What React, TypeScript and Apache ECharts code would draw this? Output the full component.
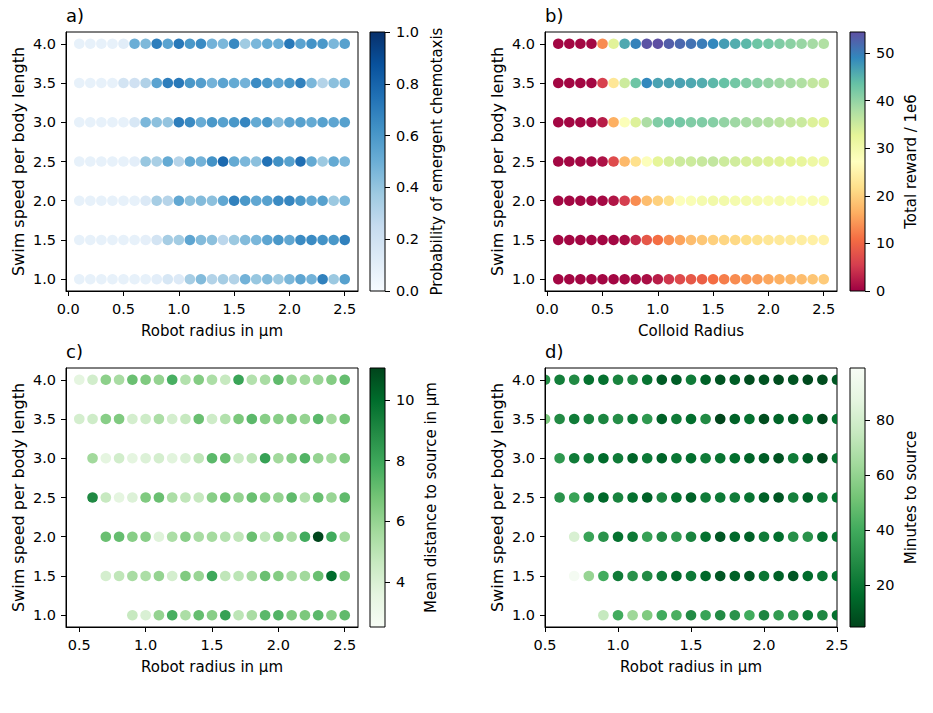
import React, { useEffect, useRef } from "react";
import * as echarts from "echarts";

// ColorBrewer ramps (the matplotlib Blues / Spectral / Greens maps)
const BLUES = ["#f7fbff", "#deebf7", "#c6dbef", "#9ecae1", "#6baed6", "#4292c6", "#2171b5", "#08519c", "#08306b"];
const SPECTRAL = ["#9e0142", "#d53e4f", "#f46d43", "#fdae61", "#fee08b", "#ffffbf", "#e6f598", "#abdda4", "#66c2a5", "#3288bd", "#5e4fa2"];
const GREENS = ["#f7fcf5", "#e5f5e0", "#c7e9c0", "#a1d99b", "#74c476", "#41ab5d", "#238b45", "#006d2c", "#00441b"];
const GREENS_R = GREENS.slice().reverse();

// grid of simulated parameters
const speeds = [4.0, 3.5, 3.0, 2.5, 2.0, 1.5, 1.0];
const radiiAB = [0.1, 0.2, 0.3, 0.4, 0.5, 0.6, 0.7, 0.8, 0.9, 1.0, 1.1, 1.2, 1.3, 1.4, 1.5, 1.6, 1.7, 1.8, 1.9, 2.0, 2.1, 2.2, 2.3, 2.4, 2.5];
const radiiCD = [0.5, 0.6, 0.7, 0.8, 0.9, 1.0, 1.1, 1.2, 1.3, 1.4, 1.5, 1.6, 1.7, 1.8, 1.9, 2.0, 2.1, 2.2, 2.3, 2.4, 2.5];

// tick labels
const xTicksAB = [0.0, 0.5, 1.0, 1.5, 2.0, 2.5];
const xTicksCD = [0.5, 1.0, 1.5, 2.0, 2.5];
const yTicks = [1.0, 1.5, 2.0, 2.5, 3.0, 3.5, 4.0];
const cbarTicksA = [0.0, 0.2, 0.4, 0.6, 0.8, 1.0];
const cbarTicksB = [0, 10, 20, 30, 40, 50];
const cbarTicksC = [4, 6, 8, 10];
const cbarTicksD = [20, 40, 60, 80];

// colour-scale limits
const rangeA = [0, 1];
const rangeB = [0, 54.4];
const rangeC = [2.52, 11.05];
const rangeD = [4.7, 98.9];

// a) probability of emergent chemotaxis, one row per swim speed (4.0 .. 1.0)
const chemotaxisProb = [
  [0.08, 0.08, 0.08, 0.08, 0.11, 0.5, 0.45, 0.7, 0.55, 0.72, 0.6, 0.65, 0.48, 0.46, 0.66, 0.37, 0.46, 0.52, 0.5, 0.72, 0.55, 0.62, 0.6, 0.46, 0.56],
  [0.08, 0.08, 0.08, 0.08, 0.18, 0.2, 0.32, 0.55, 0.7, 0.72, 0.6, 0.57, 0.48, 0.55, 0.52, 0.48, 0.65, 0.6, 0.54, 0.6, 0.69, 0.46, 0.31, 0.42, 0.46],
  [0.08, 0.08, 0.08, 0.08, 0.08, 0.16, 0.46, 0.42, 0.4, 0.7, 0.65, 0.51, 0.6, 0.56, 0.6, 0.67, 0.52, 0.6, 0.44, 0.54, 0.56, 0.52, 0.56, 0.54, 0.56],
  [0.08, 0.08, 0.08, 0.08, 0.08, 0.1, 0.39, 0.34, 0.52, 0.3, 0.52, 0.48, 0.62, 0.78, 0.52, 0.46, 0.42, 0.75, 0.63, 0.56, 0.76, 0.52, 0.38, 0.52, 0.46],
  [0.08, 0.08, 0.08, 0.08, 0.08, 0.08, 0.14, 0.35, 0.3, 0.53, 0.42, 0.44, 0.42, 0.53, 0.69, 0.6, 0.53, 0.56, 0.65, 0.67, 0.6, 0.53, 0.56, 0.38, 0.46],
  [0.08, 0.08, 0.08, 0.08, 0.08, 0.08, 0.09, 0.18, 0.35, 0.36, 0.54, 0.44, 0.42, 0.28, 0.38, 0.44, 0.46, 0.54, 0.6, 0.53, 0.65, 0.65, 0.62, 0.6, 0.69],
  [0.08, 0.08, 0.08, 0.08, 0.08, 0.08, 0.08, 0.1, 0.16, 0.13, 0.35, 0.44, 0.31, 0.35, 0.31, 0.48, 0.39, 0.44, 0.38, 0.46, 0.54, 0.48, 0.69, 0.38, 0.56],
];

// b) total reward / 1e6 versus colloid radius
const totalReward = [
  [0.5, 0.5, 0.5, 0.5, 13.5, 33, 46, 49.5, 54, 54.4, 53, 52, 51, 50, 49, 47, 45.5, 44.5, 43, 42.5, 41.5, 40.5, 39.5, 38.5, 37.5],
  [0.5, 0.5, 0.5, 0.5, 5.8, 23, 35, 43, 49, 46.5, 46.5, 46.5, 46, 45.5, 44.5, 43.5, 42.5, 41.5, 41, 40, 39, 38.5, 37.5, 36, 35.5],
  [0.5, 0.5, 0.5, 0.5, 2.5, 16.5, 28, 33.5, 38, 41.5, 42.5, 42.3, 41.5, 41.5, 41, 40, 39, 38.5, 38, 37.5, 36.5, 35.8, 35.2, 33.5, 33],
  [0.5, 0.5, 0.5, 0.5, 1.5, 7, 17.5, 22, 27.8, 32.6, 34, 35, 35, 35.5, 36, 35, 34.7, 34, 33.8, 33.3, 33, 32.6, 32, 31, 30.5],
  [0.5, 0.5, 0.5, 0.5, 0.7, 1.8, 5.4, 13.5, 18, 20, 22, 27.8, 28.5, 29.5, 30.3, 30, 29.5, 29.5, 29.2, 28.8, 29.2, 28.5, 27.8, 28.8, 28.5],
  [0.5, 0.5, 0.5, 0.5, 0.5, 0.5, 1, 3.5, 8.5, 10.9, 13.5, 15.5, 18, 19, 20, 20.7, 21, 21.8, 22.3, 23, 23.3, 23.7, 24.2, 24.5, 25],
  [0.5, 0.5, 0.5, 0.5, 0.5, 0.5, 0.8, 0.8, 1.2, 2.5, 4.8, 7, 8.5, 9.3, 10.9, 12.3, 13.5, 14.2, 14.7, 15.7, 16.5, 17.2, 18, 18.8, 19.5],
];

// c) mean distance to source in µm; each row ends at radius 2.5
const meanDistance = [
  [3.6, 4.3, 6.2, 5.5, 7.0, 6.5, 6.0, 7.7, 5.2, 6.4, 5.4, 4.65, 8.1, 5.2, 5.5, 7.2, 5.9, 5.7, 5.9, 6.4, 7.1],
  [4.2, 4.4, 6.3, 6.5, 4.2, 4.4, 5.4, 4.2, 4.65, 7.0, 4.4, 5.2, 6.6, 7.3, 6.3, 6.3, 6.5, 6.0, 7.3, 5.7, 6.8],
  [5.7, 3.6, 4.3, 3.6, 3.9, 4.2, 3.7, 4.0, 4.85, 7.3, 7.0, 4.5, 4.95, 8.2, 5.7, 6.3, 7.5, 6.0, 5.6, 6.5],
  [9.0, 4.65, 3.6, 3.9, 6.5, 7.0, 5.4, 4.85, 4.65, 6.3, 6.8, 6.0, 7.0, 6.3, 6.0, 7.2, 5.3, 7.0, 5.9, 7.2],
  [7.0, 7.1, 6.3, 6.3, 3.8, 5.4, 6.3, 5.5, 5.6, 5.2, 4.85, 7.0, 4.95, 6.3, 5.5, 7.85, 11.0, 7.85, 5.7],
  [4.2, 4.85, 5.5, 5.4, 6.0, 4.2, 6.5, 5.9, 7.95, 4.85, 4.95, 5.5, 7.0, 6.4, 5.5, 5.7, 7.0, 10.0, 6.4],
  [4.65, 4.0, 6.0, 7.7, 5.4, 7.1, 6.3, 8.2, 4.95, 5.5, 7.3, 7.5, 6.5, 6.6, 7.3, 6.3, 7.2],
];

// d) minutes to source; each row ends at radius 2.5
const minutesToSource = [
  [30, 23, 28, 18, 18, 25, 26, 19, 11, 12, 22, 13, 9, 12, 7, 9, 7, 9, 6, 7, 10],
  [54, 28, 22, 25, 26, 29, 21, 33, 13, 22, 17, 28, 5, 13, 18, 7, 14, 11, 18, 5, 18],
  [33, 22, 22, 16, 22, 14, 21, 14, 20, 17, 22, 19, 17, 14, 12, 9, 22, 12, 5, 19],
  [31, 37, 22, 15, 25, 18, 13, 26, 18, 13, 22, 21, 22, 19, 13, 10, 24, 13, 22, 18],
  [82, 37, 31, 18, 21, 36, 28, 33, 25, 18, 10, 15, 13, 22, 17, 30, 31, 18, 19],
  [97, 61, 40, 22, 31, 28, 22, 15, 21, 15, 10, 13, 10, 20, 13, 10, 16, 20, 18],
  [75, 40, 63, 55, 40, 42, 28, 37, 28, 31, 40, 26, 34, 33, 21, 27, 18],
];

const FONT = "DejaVu Sans";
const TICK_FS = 14.5;
const LABEL_FS = 15;
const YLABEL_FS = 16;

// rows are right-aligned on the radius list (short rows start at larger radii)
function toPoints(radii: number[], rows: number[][]) {
  const pts: number[][] = [];
  rows.forEach((row, i) => {
    const xs = radii.slice(radii.length - row.length);
    row.forEach((v, j) => pts.push([xs[j], speeds[i], v]));
  });
  return pts;
}

const panels = [
  { left: 66, top: 32, xmin: -0.02, xmax: 2.62, xticks: xTicksAB, xname: "Robot radius in μm", pts: toPoints(radiiAB, chemotaxisProb), cmap: BLUES, range: rangeA, letter: "a)" },
  { left: 545, top: 32, xmin: -0.02, xmax: 2.62, xticks: xTicksAB, xname: "Colloid Radius", pts: toPoints(radiiAB, totalReward), cmap: SPECTRAL, range: rangeB, letter: "b)" },
  { left: 66, top: 368, xmin: 0.4, xmax: 2.6, xticks: xTicksCD, xname: "Robot radius in μm", pts: toPoints(radiiCD, meanDistance), cmap: GREENS, range: rangeC, letter: "c)" },
  { left: 545, top: 368, xmin: 0.5, xmax: 2.5, xticks: xTicksCD, xname: "Robot radius in μm", pts: toPoints(radiiCD, minutesToSource), cmap: GREENS_R, range: rangeD, letter: "d)" },
];

const colorbars = [
  { left: 370, top: 32, ticks: cbarTicksA, range: rangeA, cmap: BLUES, name: "Probability of emergent chemotaxis", gap: 44, fmt: (v: number) => v.toFixed(1) },
  { left: 850, top: 32, ticks: cbarTicksB, range: rangeB, cmap: SPECTRAL, name: "Total reward / 1e6", gap: 38, fmt: (v: number) => String(Math.round(v)) },
  { left: 370, top: 368, ticks: cbarTicksC, range: rangeC, cmap: GREENS, name: "Mean distance to source in μm", gap: 38, fmt: (v: number) => String(Math.round(v)) },
  { left: 850, top: 368, ticks: cbarTicksD, range: rangeD, cmap: GREENS_R, name: "Minutes to source", gap: 38, fmt: (v: number) => String(Math.round(v)) },
];

const PW = 292;
const PH = 259;
const CBW = 15;

export default function App() {
  const ref = useRef<HTMLDivElement>(null);

  useEffect(() => {
    if (!ref.current) return;
    const chart = echarts.init(ref.current, null, { renderer: "svg" });

    const grids: any[] = [];
    const xAxis: any[] = [];
    const yAxis: any[] = [];
    const series: any[] = [];
    const visualMap: any[] = [];

    const tickStyle = { color: "#000", width: 1 };
    const labelStyle = { color: "#000", fontFamily: FONT, fontSize: TICK_FS };

    panels.forEach((p, i) => {
      grids.push({ left: p.left, top: p.top, width: PW, height: PH, show: true, borderColor: "#000", borderWidth: 1, backgroundColor: "transparent" });
      xAxis.push({
        type: "value", gridIndex: i, min: p.xmin, max: p.xmax, z: 5,
        axisLine: { show: true, onZero: false, lineStyle: tickStyle },
        axisTick: { show: true, length: 5, customValues: p.xticks, lineStyle: tickStyle },
        axisLabel: { customValues: p.xticks, margin: 10, formatter: (v: number) => v.toFixed(1), ...labelStyle },
        splitLine: { show: false },
        name: p.xname, nameLocation: "middle", nameGap: 32,
        nameTextStyle: { color: "#000", fontFamily: FONT, fontSize: LABEL_FS },
      });
      yAxis.push({
        type: "value", gridIndex: i, min: 0.85, max: 4.15, z: 5,
        axisLine: { show: true, onZero: false, lineStyle: tickStyle },
        axisTick: { show: true, length: 5, customValues: yTicks, lineStyle: tickStyle },
        axisLabel: { customValues: yTicks, margin: 10, formatter: (v: number) => v.toFixed(1), ...labelStyle },
        splitLine: { show: false },
        name: "Swim speed per body length", nameLocation: "middle", nameRotate: 90, nameGap: 40,
        nameTextStyle: { color: "#000", fontFamily: FONT, fontSize: YLABEL_FS },
      });
      series.push({
        type: "custom",
        xAxisIndex: i, yAxisIndex: i,
        clip: true,
        data: p.pts,
        encode: { x: 0, y: 1 },
        renderItem: (_params: any, api: any) => {
          const c = api.coord([api.value(0), api.value(1)]);
          return { type: "circle", shape: { cx: c[0], cy: c[1], r: 5.3 }, style: { fill: api.visual("color") } };
        },
      });
      visualMap.push({
        type: "continuous", show: false, seriesIndex: i, dimension: 2,
        min: p.range[0], max: p.range[1], inRange: { color: p.cmap },
      });
    });

    colorbars.forEach((cb, k) => {
      const gi = panels.length + k;
      grids.push({ left: cb.left, top: cb.top, width: CBW, height: PH });
      xAxis.push({ type: "value", gridIndex: gi, min: 0, max: 1, show: false });
      yAxis.push({
        type: "value", gridIndex: gi, position: "right", min: cb.range[0], max: cb.range[1],
        axisLine: { show: false, onZero: false },
        axisTick: { show: true, length: 5, customValues: cb.ticks, lineStyle: tickStyle },
        axisLabel: { customValues: cb.ticks, margin: 11, formatter: cb.fmt, ...labelStyle },
        splitLine: { show: false },
        name: cb.name, nameLocation: "middle", nameRotate: 90, nameGap: cb.gap,
        nameTextStyle: { color: "#000", fontFamily: FONT, fontSize: LABEL_FS },
      });
      const stops = cb.cmap.map((c, j) => ({ offset: j / (cb.cmap.length - 1), color: c }));
      series.push({
        type: "custom",
        xAxisIndex: gi, yAxisIndex: gi,
        data: [[0.5, (cb.range[0] + cb.range[1]) / 2]],
        encode: { x: 0, y: 1 },
        silent: true,
        renderItem: (params: any) => {
          const cs = params.coordSys;
          return {
            type: "rect",
            shape: { x: cs.x, y: cs.y, width: cs.width, height: cs.height },
            style: { fill: new echarts.graphic.LinearGradient(0, 1, 0, 0, stops), stroke: "#000", lineWidth: 1 },
          };
        },
      });
    });

    const title = panels.map((p) => ({
      text: p.letter, left: p.left, top: p.top - 26, padding: 0,
      textStyle: { color: "#000", fontFamily: FONT, fontSize: 18, fontWeight: "normal" },
    }));

    chart.setOption({
      animation: false,
      backgroundColor: "#fff",
      title,
      grid: grids,
      xAxis,
      yAxis,
      visualMap,
      series,
    });

    return () => chart.dispose();
  }, []);

  return <div ref={ref} style={{ position: "fixed", left: 0, top: 0, width: 933, height: 713 }} />;
}
